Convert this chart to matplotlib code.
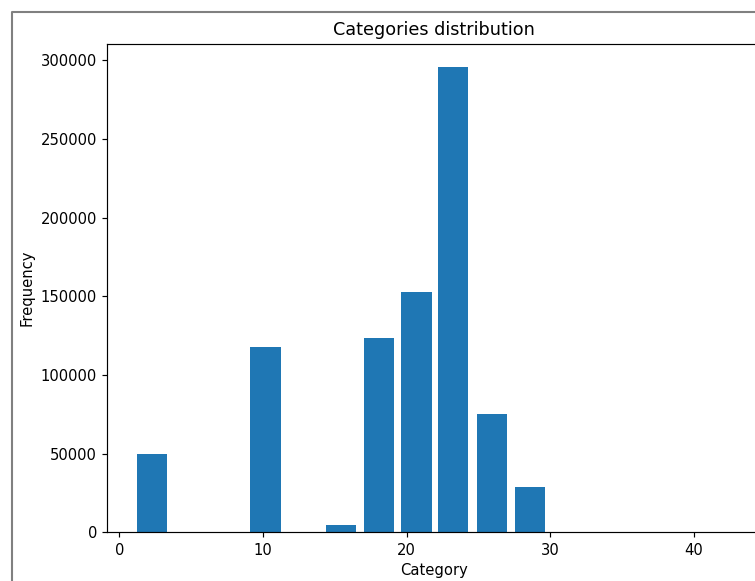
import matplotlib
matplotlib.use("Agg")
import matplotlib.pyplot as plt
from matplotlib.lines import Line2D

# Data
bar_centers = [2.29, 10.18, 15.42, 18.07, 20.68, 23.23, 25.94, 28.56]
frequencies = [50000, 117800, 4900, 123700, 152500, 295800, 75400, 29000]
bar_width = 2.1

s = 1.06
plt.rcParams.update({
    "font.size": 10 * s,
    "axes.titlesize": 12 * s,
    "xtick.major.size": 3.5 * s,
    "ytick.major.size": 3.5 * s,
    "xtick.major.pad": 3.5 * s,
    "ytick.major.pad": 3.5 * s,
    "axes.linewidth": 0.8 * s,
    "xtick.major.width": 0.8 * s,
    "ytick.major.width": 0.8 * s,
})

W, H = 755, 581
fig = plt.figure(figsize=(W / 100, H / 100), dpi=100)

# axes placement in pixels (right edge runs past the cropped image)
left_px, right_px, top_px, bottom_px = 107.3, 761, 44, 532.3
ax = fig.add_axes([left_px / W, (H - bottom_px) / H,
                   (right_px - left_px) / W, (bottom_px - top_px) / H])

ax.bar(bar_centers, frequencies, width=bar_width, color="#1f77b4")
ax.set_xlim(-0.835, 44.66)
ax.set_ylim(0, 310300)
ax.set_xticks([0, 10, 20, 30, 40])
ax.set_yticks([0, 50000, 100000, 150000, 200000, 250000, 300000])
ax.set_xlabel("Category", labelpad=4 * s)
ax.set_ylabel("Frequency", labelpad=4 * s)
ax.set_title("Categories distribution", pad=6 * s)

# grey frame of the (cropped) figure
bx, by = 11.5 / W, 1 - 11.5 / H
fig.add_artist(Line2D([bx, bx, 1.0], [0.0, by, by], transform=fig.transFigure,
                      color="#808080", lw=1.5))

fig.savefig("out.png", dpi=100)
